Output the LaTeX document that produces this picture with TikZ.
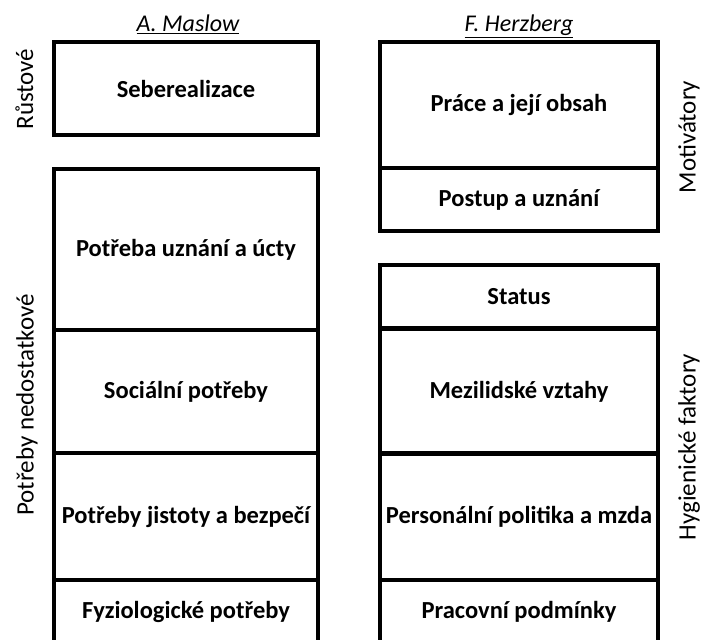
\documentclass[tikz,border=0pt]{standalone}
\usepackage{fontspec}
\setmainfont{Carlito}
\tikzset{
  cell/.style={draw, line width=3.8pt, inner sep=0pt, font=\fontsize{24.5}{28}\selectfont\bfseries, align=center},
  side/.style={rotate=90, inner sep=0pt, anchor=base, font=\fontsize{25}{28}\selectfont},
  head/.style={inner sep=0pt, anchor=base, font=\fontsize{24}{28}\selectfont\itshape}
}
\begin{document}
\begin{tikzpicture}[x=1pt,y=-1pt]
\useasboundingbox (0,0) rectangle (702,640);
\clip (0,0) rectangle (702,640);
% headers
\node[head] (hm) at (188,31.5) {\underline{A. Maslow}};
\node[head] (hh) at (519,31.5) {\underline{F. Herzberg}};
% left column
\node[cell, minimum width=264pt, minimum height=93pt] (seb) at (186,88.5) {Seberealizace};
\node[cell, minimum width=264pt, minimum height=161pt] (ucta) at (186,249.5) {Potřeba uznání a úcty};
\node[cell, minimum width=264pt, minimum height=123pt] (soc) at (186,391.5) {Sociální potřeby};
\node[cell, minimum width=264pt, minimum height=127pt] (jist) at (186,516.5) {Potřeby jistoty a bezpečí};
\node[cell, minimum width=264pt, minimum height=64pt] (fyz) at (186,612) {Fyziologické potřeby};
% right column
\node[cell, minimum width=278pt, minimum height=126pt] (prace) at (519,105) {Práce a její obsah};
\node[cell, minimum width=278pt, minimum height=63pt] (post) at (519,199.5) {Postup a uznání};
\node[cell, minimum width=278pt, minimum height=63pt] (stat) at (519,296.5) {Status};
\node[cell, minimum width=278pt, minimum height=125pt] (mezi) at (519,391.5) {Mezilidské vztahy};
\node[cell, minimum width=278pt, minimum height=127pt] (pers) at (519,516.5) {Personální politika a mzda};
\node[cell, minimum width=278pt, minimum height=64pt] (prac) at (519,612) {Pracovní podmínky};
% side labels
\node[side] (rust) at (33,89) {Růstové};
\node[side] (ned) at (33.5,405) {Potřeby nedostatkové};
\node[side] (mot) at (695.5,137) {Motivátory};
\node[side] (hyg) at (695.5,447) {Hygienické faktory};
\end{tikzpicture}
\end{document}
